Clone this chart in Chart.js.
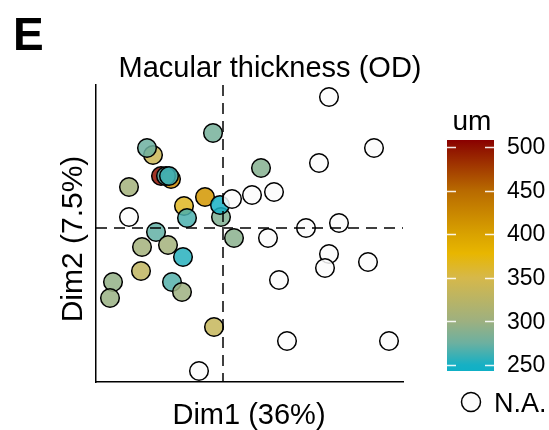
<!DOCTYPE html>
<html>
<head>
<meta charset="utf-8">
<script src="https://cdn.jsdelivr.net/npm/chart.js@4.4.1/dist/chart.umd.min.js"></script>
<style>
  html, body { margin: 0; padding: 0; background: #fff; }
</style>
</head>
<body>
<canvas id="pcaChart" width="549" height="430"></canvas>
<script>
// samples with a thickness value (draw order kept as in the figure)
const dim1 = [-0.10, -0.70, -0.76, -0.94, -0.62, -0.52, -0.57, -0.54, -0.18, -0.39, -0.36, -0.02, -0.03,
              -0.67, -0.81, -0.55, -0.40, -0.82, -1.10, -1.13, -0.51, -0.41, -0.09, 0.11, 0.38];
const dim2 = [0.95, 0.73, 0.80, 0.41, 0.52, 0.49, 0.52, 0.52, 0.31, 0.22, 0.10, 0.11, 0.23,
              -0.04, -0.19, -0.17, -0.29, -0.43, -0.54, -0.70, -0.54, -0.64, -0.99, -0.10, 0.60];
const thickness = [280, 340, 275, 305, 500, 425, 268, 262, 410, 365, 265, 285, 250,
                   272, 305, 305, 255, 330, 295, 298, 268, 300, 335, 290, 288];

// samples without a value (N.A.)
const naDim1 = [-0.94, 0.09, 0.29, 0.51, 1.06, 1.51, 0.96, 0.83, 1.16, 0.45, 1.06, 1.02, 1.45, 0.56, 0.64, 1.66, -0.24];
const naDim2 = [0.11, 0.29, 0.33, 0.36, 1.31, 0.80, 0.65, 0.00, 0.05, -0.10, -0.26, -0.40, -0.34, -0.52, -1.13, -1.13, -1.43];

const barTicks = [250, 300, 350, 400, 450, 500];

const FONT = '"Liberation Sans", Arial, Helvetica, sans-serif';

// colour ramp of the legend bar
const stops = [
    [243, [15, 176, 198]], [250, [22, 176, 196]], [275, [108, 176, 160]], [300, [157, 176, 128]],
    [350, [214, 184, 74]], [378, [232, 182, 0]], [400, [217, 162, 0]], [450, [184, 106, 0]],
    [500, [143, 16, 0]], [508, [138, 0, 0]]
];

function rampColor(v, alpha) {
    if (v <= stops[0][0]) v = stops[0][0];
    if (v >= stops[stops.length - 1][0]) v = stops[stops.length - 1][0];
    for (let i = 0; i < stops.length - 1; i++) {
        const [v0, c0] = stops[i];
        const [v1, c1] = stops[i + 1];
        if (v >= v0 && v <= v1) {
            const t = (v - v0) / (v1 - v0);
            const c = c0.map((k, j) => Math.round(k + (c1[j] - k) * t));
            return `rgba(${c[0]}, ${c[1]}, ${c[2]}, ${alpha})`;
        }
    }
}

const refLines = {
    id: 'refLines',
    afterDatasetsDraw(chart) {
        const { ctx, chartArea, scales } = chart;
        const x0 = scales.x.getPixelForValue(0);
        const y0 = scales.y.getPixelForValue(0);
        ctx.save();
        ctx.strokeStyle = '#000';
        ctx.lineWidth = 1.5;
        ctx.setLineDash([11, 7]);
        ctx.beginPath();
        ctx.moveTo(x0, chartArea.top);
        ctx.lineTo(x0, chartArea.bottom);
        ctx.moveTo(chartArea.left, y0);
        ctx.lineTo(chartArea.right, y0);
        ctx.stroke();
        ctx.restore();
    }
};

const decorations = {
    id: 'decorations',
    afterDraw(chart) {
        const ctx = chart.ctx;
        ctx.save();
        ctx.fillStyle = '#000';

        // panel letter and titles
        ctx.font = 'bold 46px ' + FONT;
        ctx.textAlign = 'left';
        ctx.textBaseline = 'alphabetic';
        ctx.fillText('E', 13, 50);

        ctx.font = '29px ' + FONT;
        ctx.textAlign = 'center';
        ctx.fillText('Macular thickness (OD)', 270, 77);
        ctx.fillText('Dim1 (36%)', 249, 424);

        ctx.save();
        ctx.translate(82, 239);
        ctx.rotate(-Math.PI / 2);
        ctx.font = '30px ' + FONT;
        ctx.fillText('Dim2 (7.5%)', 0, 0);
        ctx.restore();

        // colour bar
        const barL = 447, barR = 494, barT = 140, barB = 371;
        const vTop = 508, vBot = 243;
        const yOf = v => barB - (v - vBot) / (vTop - vBot) * (barB - barT);
        const grad = ctx.createLinearGradient(0, barB, 0, barT);
        stops.forEach(([v]) => grad.addColorStop((v - vBot) / (vTop - vBot), rampColor(v, 1)));
        ctx.fillStyle = grad;
        ctx.fillRect(barL, barT, barR - barL, barB - barT);

        ctx.strokeStyle = 'rgba(255,255,255,0.9)';
        ctx.lineWidth = 1.5;
        ctx.beginPath();
        barTicks.forEach(v => {
            const y = Math.round(yOf(v)) + 0.5;
            ctx.moveTo(barL, y); ctx.lineTo(barL + 9, y);
            ctx.moveTo(barR - 9, y); ctx.lineTo(barR, y);
        });
        ctx.stroke();

        ctx.fillStyle = '#000';
        ctx.font = '23px ' + FONT;
        ctx.textAlign = 'left';
        ctx.textBaseline = 'middle';
        barTicks.forEach(v => ctx.fillText(String(v), 507, yOf(v) + 1));

        ctx.font = '28px ' + FONT;
        ctx.textAlign = 'center';
        ctx.textBaseline = 'alphabetic';
        ctx.fillText('um', 472, 130);

        // N.A. key
        ctx.beginPath();
        ctx.arc(471, 402, 9.5, 0, Math.PI * 2);
        ctx.fillStyle = '#fcfcfc';
        ctx.fill();
        ctx.strokeStyle = '#000';
        ctx.lineWidth = 1.5;
        ctx.stroke();
        ctx.fillStyle = '#000';
        ctx.font = '27px ' + FONT;
        ctx.textAlign = 'left';
        ctx.fillText('N.A.', 494, 412);

        ctx.restore();
    }
};

const ctx = document.getElementById('pcaChart').getContext('2d');

new Chart(ctx, {
    type: 'scatter',
    data: {
        datasets: [
            {
                label: 'N.A.',
                data: naDim1.map((x, i) => ({ x: x, y: naDim2[i] })),
                backgroundColor: 'rgba(252, 252, 252, 0.85)',
                borderColor: '#000',
                borderWidth: 1.5,
                pointRadius: 9.3,
                clip: false
            },
            {
                label: 'Macular thickness',
                data: dim1.map((x, i) => ({ x: x, y: dim2[i] })),
                backgroundColor: thickness.map(v => rampColor(v, 0.85)),
                borderColor: '#000',
                borderWidth: 1.5,
                pointRadius: 9.3,
                clip: false
            }
        ]
    },
    options: {
        responsive: false,
        animation: false,
        layout: {
            padding: { left: 0, top: 85, right: 146, bottom: 0 }
        },
        plugins: {
            legend: { display: false },
            tooltip: { enabled: false }
        },
        scales: {
            x: {
                type: 'linear',
                min: -1.27,
                max: 1.80,
                grid: { display: false },
                ticks: { display: false },
                border: { display: true, color: '#000', width: 1.5 },
                afterFit: scale => { scale.height = 48; }
            },
            y: {
                type: 'linear',
                min: -1.54,
                max: 1.43,
                grid: { display: false },
                ticks: { display: false },
                border: { display: true, color: '#000', width: 1.5 },
                afterFit: scale => { scale.width = 96; }
            }
        }
    },
    plugins: [refLines, decorations]
});
</script>
</body>
</html>
